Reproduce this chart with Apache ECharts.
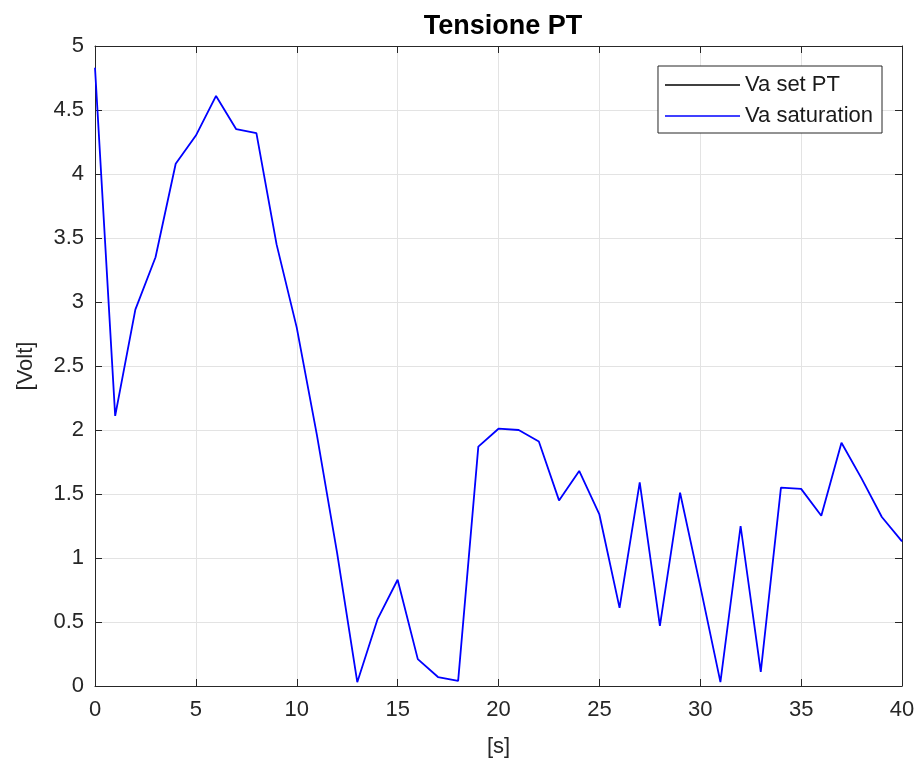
<!DOCTYPE html>
<html>
<head>
<meta charset="utf-8">
<script src="https://cdn.jsdelivr.net/npm/echarts@6/dist/echarts.min.js"></script>
<style>
html, body { margin: 0; padding: 0; background: #fff; }
#chart { width: 922px; height: 767px; }
</style>
</head>
<body>
<div id="chart"></div>
<script>
// time [s], one sample per second
var timeSec = [0,1,2,3,4,5,6,7,8,9,10,11,12,13,14,15,16,17,18,19,20,
	21,22,23,24,25,26,27,28,29,30,31,32,33,34,35,36,37,38,39,40];

var vaSaturation = [4.83,2.11,2.94,3.35,4.08,4.30,4.61,4.35,4.32,3.45,2.80,
	1.96,1.04,0.03,0.52,0.83,0.21,0.07,0.04,1.87,2.01,
	2.00,1.91,1.45,1.68,1.34,0.61,1.59,0.47,1.51,0.78,
	0.03,1.25,0.11,1.55,1.54,1.33,1.90,1.62,1.32,1.13];

// black reference line is not visible in the picture
var vaSetPT = [];

var xTicks = [0,5,10,15,20,25,30,35,40];
var yTicks = [0,0.5,1,1.5,2,2.5,3,3.5,4,4.5,5];

function pairs(xs, ys) {
	var out = [];
	for (var i = 0; i < ys.length; i++) {
		out.push([xs[i], ys[i]]);
	}
	return out;
}

var font = 'Liberation Sans, Arial, Helvetica, sans-serif';
var axisColor = '#262626';

function xAxisDef(pos, labels) {
	return {
		type : 'value',
		position : pos,
		min : xTicks[0],
		max : xTicks[xTicks.length - 1],
		interval : 5,
		name : labels ? '[s]' : '',
		nameLocation : 'middle',
		nameGap : 50,
		nameTextStyle : { color : axisColor, fontSize : 22, fontFamily : font },
		axisLine : { show : true, onZero : false, lineStyle : { color : axisColor, width : 1 } },
		axisTick : { show : true, inside : true, length : 7, lineStyle : { color : axisColor } },
		axisLabel : { show : labels, color : axisColor, fontSize : 22, fontFamily : font, margin : 13 },
		splitLine : { show : labels, lineStyle : { color : '#e3e3e3', width : 1 } }
	};
}

function yAxisDef(pos, labels) {
	return {
		type : 'value',
		position : pos,
		min : yTicks[0],
		max : yTicks[yTicks.length - 1],
		interval : 0.5,
		name : labels ? '[Volt]' : '',
		nameLocation : 'middle',
		nameGap : 58,
		nameTextStyle : { color : axisColor, fontSize : 22, fontFamily : font },
		axisLine : { show : true, onZero : false, lineStyle : { color : axisColor, width : 1 } },
		axisTick : { show : true, inside : true, length : 7, lineStyle : { color : axisColor } },
		axisLabel : { show : labels, color : axisColor, fontSize : 22, fontFamily : font, margin : 11 },
		splitLine : { show : labels, lineStyle : { color : '#e3e3e3', width : 1 } }
	};
}

var option = {
	backgroundColor : '#ffffff',
	animation : false,
	title : {
		text : 'Tensione PT',
		left : 498,
		textAlign : 'center',
		top : 8,
		textStyle : { color : '#000', fontSize : 27, fontWeight : 'bold', fontFamily : font }
	},
	grid : {
		left : 95,
		right : 20,
		top : 46,
		bottom : 81,
		containLabel : false
	},
	legend : {
		orient : 'vertical',
		right : 40,
		top : 66,
		backgroundColor : '#ffffff',
		borderColor : axisColor,
		borderWidth : 1,
		borderRadius : 0,
		padding : [8, 9, 6, 7],
		itemGap : 9,
		itemWidth : 75,
		itemHeight : 1.5,
		icon : 'rect',
		textStyle : { color : '#1a1a1a', fontSize : 22, fontFamily : font },
		data : ['Va set PT', 'Va saturation']
	},
	xAxis : [ xAxisDef('bottom', true), xAxisDef('top', false) ],
	yAxis : [ yAxisDef('left', true), yAxisDef('right', false) ],
	series : [ {
		name : 'Va set PT',
		type : 'line',
		symbol : 'none',
		color : '#000000',
		lineStyle : { color : '#000000', width : 1.8 },
		data : pairs(timeSec, vaSetPT)
	}, {
		name : 'Va saturation',
		type : 'line',
		symbol : 'none',
		color : '#0000ff',
		lineStyle : { color : '#0000ff', width : 1.8 },
		data : pairs(timeSec, vaSaturation)
	} ]
};

var myChart = echarts.init(document.getElementById('chart'));
myChart.setOption(option);
</script>
</body>
</html>
